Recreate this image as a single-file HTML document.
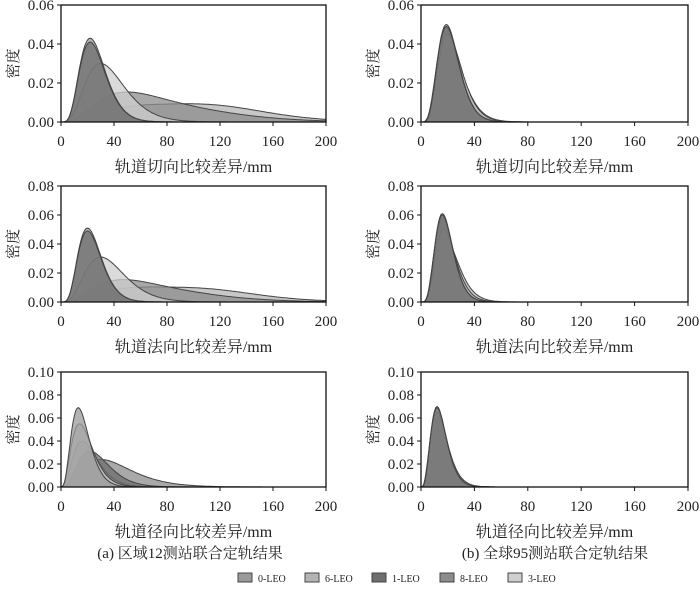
<!DOCTYPE html><html><head><meta charset="utf-8"><style>
body{margin:0;background:#fff}
svg text{font-family:"Liberation Serif","Noto Serif CJK SC",serif;fill:#222}
</style></head><body>
<svg id="s" width="700" height="588" xmlns="http://www.w3.org/2000/svg"></svg>
<script>
var s=document.getElementById('s'),h='';
var cols={'0':'#9a9a9a','6':'#b4b4b4','1':'#6e6e6e','8':'#8c8c8c','3':'#cfcfcf'};
function g(A,m,k){return function(x){if(x<=0)return 0;var t=x/m;return A*Math.pow(t,k)*Math.exp(k*(1-t));};}
function sum(a,b){return function(x){return a(x)+b(x);};}
var panels=[
 {x0:61,x1:326,yt:5,yb:122,ym:0.06,st:0.02,c:[['6',sum(g(0.0085,65,2.6),g(0.004,125,14))],['8',sum(g(0.015,48,3),g(0.003,110,8))],['3',g(0.030,30,4)],['0',g(0.043,22,5)],['1',g(0.041,22,5)]]},
 {x0:421,x1:688,yt:5,yb:122,ym:0.06,st:0.02,c:[['6',g(0.041,20,4.5)],['8',g(0.048,19,5)],['3',g(0.045,20,5)],['0',g(0.050,19,5.5)],['1',g(0.049,19,5.5)]]},
 {x0:61,x1:326,yt:186,yb:302,ym:0.08,st:0.02,c:[['6',sum(g(0.010,60,2.6),g(0.004,120,14))],['8',sum(g(0.015,45,3),g(0.003,100,8))],['3',g(0.031,30,4)],['0',g(0.051,20,5)],['1',g(0.049,20,5)]]},
 {x0:421,x1:688,yt:186,yb:302,ym:0.08,st:0.02,c:[['6',g(0.044,18,4.5)],['8',g(0.058,16,5)],['3',g(0.050,17,5)],['0',g(0.061,16,5.5)],['1',g(0.060,16,5.5)]]},
 {x0:61,x1:326,yt:372,yb:487,ym:0.10,st:0.02,c:[['8',g(0.024,30,2.6)],['6',g(0.040,16,3)],['1',g(0.031,22,3.5)],['3',g(0.055,14,3)],['0',g(0.069,13,3.5)]]},
 {x0:421,x1:688,yt:372,yb:487,ym:0.10,st:0.02,c:[['8',g(0.060,12,3.5)],['3',g(0.065,12,3.5)],['0',g(0.070,12,4)],['1',g(0.069,12,4)]]}
];
var xl=['轨道切向比较差异/mm','轨道切向比较差异/mm','轨道法向比较差异/mm','轨道法向比较差异/mm','轨道径向比较差异/mm','轨道径向比较差异/mm'];
panels.forEach(function(p,i){
 var X=function(v){return p.x0+(p.x1-p.x0)*v/200},Y=function(v){return p.yb-(p.yb-p.yt)*v/p.ym};
 p.c.forEach(function(c){var d='M'+X(0)+','+p.yb;for(var v=0;v<=200;v+=1)d+='L'+X(v).toFixed(1)+','+Y(c[1](v)).toFixed(1);d+='L'+X(200)+','+p.yb+'Z';
  h+='<path d="'+d+'" fill="'+cols[c[0]]+'" fill-opacity="0.75" stroke="#444" stroke-width="1"/>';});
 h+='<rect x="'+p.x0+'" y="'+p.yt+'" width="'+(p.x1-p.x0)+'" height="'+(p.yb-p.yt)+'" fill="none" stroke="#111" stroke-width="1.3"/>';
 for(var v=0;v<=200;v+=40){h+='<line x1="'+X(v)+'" x2="'+X(v)+'" y1="'+p.yb+'" y2="'+(p.yb+4)+'" stroke="#111"/><text x="'+X(v)+'" y="'+(p.yb+24)+'" font-size="15" text-anchor="middle">'+v+'</text>';}
 for(var t=0;t<=p.ym+1e-9;t+=p.st){var y=Y(t);h+='<line x1="'+(p.x0-4)+'" x2="'+p.x0+'" y1="'+y+'" y2="'+y+'" stroke="#111"/><text x="'+(p.x0-7)+'" y="'+(y+5)+'" font-size="15" text-anchor="end">'+t.toFixed(2)+'</text>';}
 var my=(p.yt+p.yb)/2;
 h+='<text x="'+(p.x0-48)+'" y="'+my+'" font-size="15" text-anchor="middle" transform="rotate(-90 '+(p.x0-48)+' '+my+')" dy="5">密度</text>';
 h+='<text x="'+((p.x0+p.x1)/2)+'" y="'+(p.yb+50)+'" font-size="16" text-anchor="middle">'+xl[i]+'</text>';
});
h+='<text x="190" y="558" font-size="15" text-anchor="middle">(a) 区域12测站联合定轨结果</text>';
h+='<text x="555" y="558" font-size="15" text-anchor="middle">(b) 全球95测站联合定轨结果</text>';
var lg=[['0',238],['6',305],['1',372],['8',440],['3',508]];
lg.forEach(function(l){h+='<rect x="'+l[1]+'" y="573" width="14" height="9" fill="'+cols[l[0]]+'" stroke="#444"/><text x="'+(l[1]+20)+'" y="582" font-size="10">'+l[0]+'-LEO</text>';});
s.innerHTML=h;
</script></body></html>
